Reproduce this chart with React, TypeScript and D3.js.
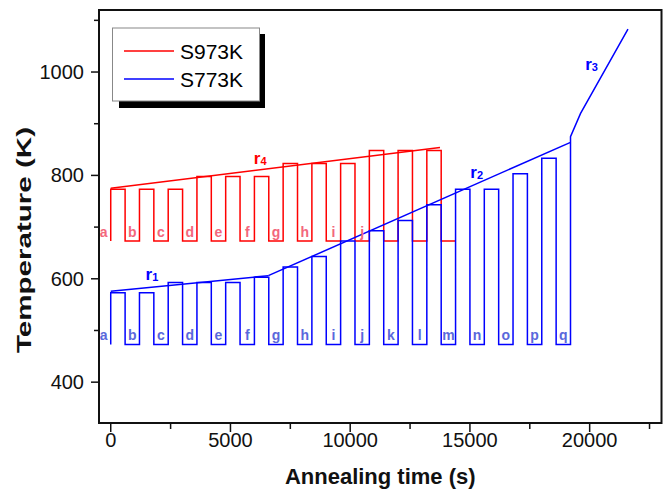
import React from "react";
import * as d3 from "d3";

// ---- data ----
const PERIOD = 1200; // s per cycle
const HOLD = 600; // s at high temperature
const redLow = 673;
const blueLow = 473;
const redHighs = [773, 773, 773, 798, 798, 798, 823, 823, 823, 848, 848, 848];
const blueHighs = [573, 573, 593, 593, 593, 603, 623, 643, 673, 693, 713, 743, 773, 773, 803, 833];
const blueTail: [number, number][] = [[19200, 473], [19200, 875], [19620, 920], [21600, 1083]];
const r1Line: [number, number][] = [[0, 576], [6580, 606]];
const r2Line: [number, number][] = [[6580, 606], [19200, 864]];
const r4Line: [number, number][] = [[0, 775], [13750, 854]];
const redLetters = ["a", "b", "c", "d", "e", "f", "g", "h", "i", "j"];
const blueLetters = ["a", "b", "c", "d", "e", "f", "g", "h", "i", "j", "k", "l", "m", "n", "o", "p", "q"];
const annotations = [
  { name: "r", sub: "4", t: 6240, T: 823, color: "#ff0000" },
  { name: "r", sub: "1", t: 1720, T: 597, color: "#0000ff" },
  { name: "r", sub: "2", t: 15280, T: 795, color: "#0000ff" },
  { name: "r", sub: "3", t: 20080, T: 1003, color: "#0000ff" },
];
const xTicks = [0, 5000, 10000, 15000, 20000];
const xMinor = [2500, 7500, 12500, 17500, 22500];
const yTicks = [400, 600, 800, 1000];
const yMinor = [500, 700, 900, 1100];
const legendItems = [
  { label: "S973K", color: "#ff0000" },
  { label: "S773K", color: "#0000ff" },
];

function pulseTrace(highs: number[], low: number, tail: [number, number][]): [number, number][] {
  const pts: [number, number][] = [];
  highs.forEach((h, i) => {
    const t0 = i * PERIOD;
    pts.push([t0, low], [t0, h], [t0 + HOLD, h], [t0 + HOLD, low]);
  });
  return pts.concat(tail);
}

const W = 663;
const H = 492;
const L = 99, R = 661.5, T = 10, B = 423;
const FONT = "Liberation Sans, Arial, sans-serif";

export default function App() {
  const x = d3.scaleLinear().domain([-490, 23000]).range([L, R]);
  const y = d3.scaleLinear().domain([321, 1120]).range([B, T]);
  const line = d3.line<[number, number]>().x(d => x(d[0])).y(d => y(d[1]));

  const redTrace = pulseTrace(redHighs, redLow, [[redHighs.length * PERIOD, redLow]]);
  const blueTrace = pulseTrace(blueHighs, blueLow, blueTail);

  return (
    <svg width={W} height={H} style={{ position: "absolute", left: 0, top: 0, background: "#fff" }} fontFamily={FONT}>
      <rect x={0} y={0} width={W} height={H} fill="#fff" />
      {/* traces */}
      <path d={line(redTrace) || ""} fill="none" stroke="#ff0000" strokeWidth={1.5} />
      <path d={line(blueTrace) || ""} fill="none" stroke="#0000ff" strokeWidth={1.5} />
      <path d={line(r4Line) || ""} fill="none" stroke="#ff0000" strokeWidth={1.5} />
      <path d={line(r1Line) || ""} fill="none" stroke="#0000ff" strokeWidth={1.5} />
      <path d={line(r2Line) || ""} fill="none" stroke="#0000ff" strokeWidth={1.5} />
      {/* letters */}
      {redLetters.map((l, i) => (
        <text key={"rl" + i} x={x(i * PERIOD - PERIOD / 4)} y={y(redLow) - 4} textAnchor="middle"
          fontSize={14} fontWeight="bold" fill="#f3677c">{l}</text>
      ))}
      {blueLetters.map((l, i) => (
        <text key={"bl" + i} x={x(i * PERIOD - PERIOD / 4)} y={y(blueLow) - 4} textAnchor="middle"
          fontSize={14} fontWeight="bold" fill="#5a68dc">{l}</text>
      ))}
      {/* annotations */}
      {annotations.map((a, i) => (
        <text key={"an" + i} x={x(a.t)} y={y(a.T)} textAnchor="middle" fill={a.color} fontWeight="bold" fontSize={17}>
          {a.name}
          <tspan fontSize={11} dy={1}>{a.sub}</tspan>
        </text>
      ))}
      {/* frame */}
      <rect x={L} y={T} width={R - L} height={B - T} fill="none" stroke="#111" strokeWidth={2} />
      {/* x ticks */}
      {xTicks.map(t => (
        <g key={"xt" + t}>
          <line x1={x(t)} x2={x(t)} y1={B} y2={B + 9} stroke="#111" strokeWidth={1.5} />
          <text x={x(t)} y={B + 24} textAnchor="middle" fontSize={20} fill="#111">{t}</text>
        </g>
      ))}
      {xMinor.map(t => (
        <line key={"xm" + t} x1={x(t)} x2={x(t)} y1={B} y2={B + 6} stroke="#111" strokeWidth={1.5} />
      ))}
      {/* y ticks */}
      {yTicks.map(t => (
        <g key={"yt" + t}>
          <line x1={L - 8} x2={L} y1={y(t)} y2={y(t)} stroke="#111" strokeWidth={1.5} />
          <text x={L - 15} y={y(t) + 7} textAnchor="end" fontSize={20} fill="#111">{t}</text>
        </g>
      ))}
      {yMinor.map(t => (
        <line key={"ym" + t} x1={L - 5} x2={L} y1={y(t)} y2={y(t)} stroke="#111" strokeWidth={1.5} />
      ))}
      {/* axis titles */}
      <text x={(L + R) / 2} y={484} textAnchor="middle" fontSize={22} fontWeight="bold" fill="#111">Annealing time (s)</text>
      <text transform={`translate(31, 240) rotate(-90)`} textAnchor="middle" fontSize={21}
        fontWeight="bold" fill="#111" textLength={226} lengthAdjust="spacingAndGlyphs">Temperature (K)</text>
      {/* legend */}
      <rect x={119} y={34} width={146} height={74} fill="#000" />
      <rect x={112.5} y={28} width={147} height={73} fill="#fff" stroke="#888" strokeWidth={1} />
      {legendItems.map((it, i) => (
        <g key={"lg" + i}>
          <line x1={124} x2={174} y1={51 + i * 28} y2={51 + i * 28} stroke={it.color} strokeWidth={1.5} />
          <text x={180} y={58.5 + i * 28} fontSize={21} fill="#000">{it.label}</text>
        </g>
      ))}
    </svg>
  );
}
